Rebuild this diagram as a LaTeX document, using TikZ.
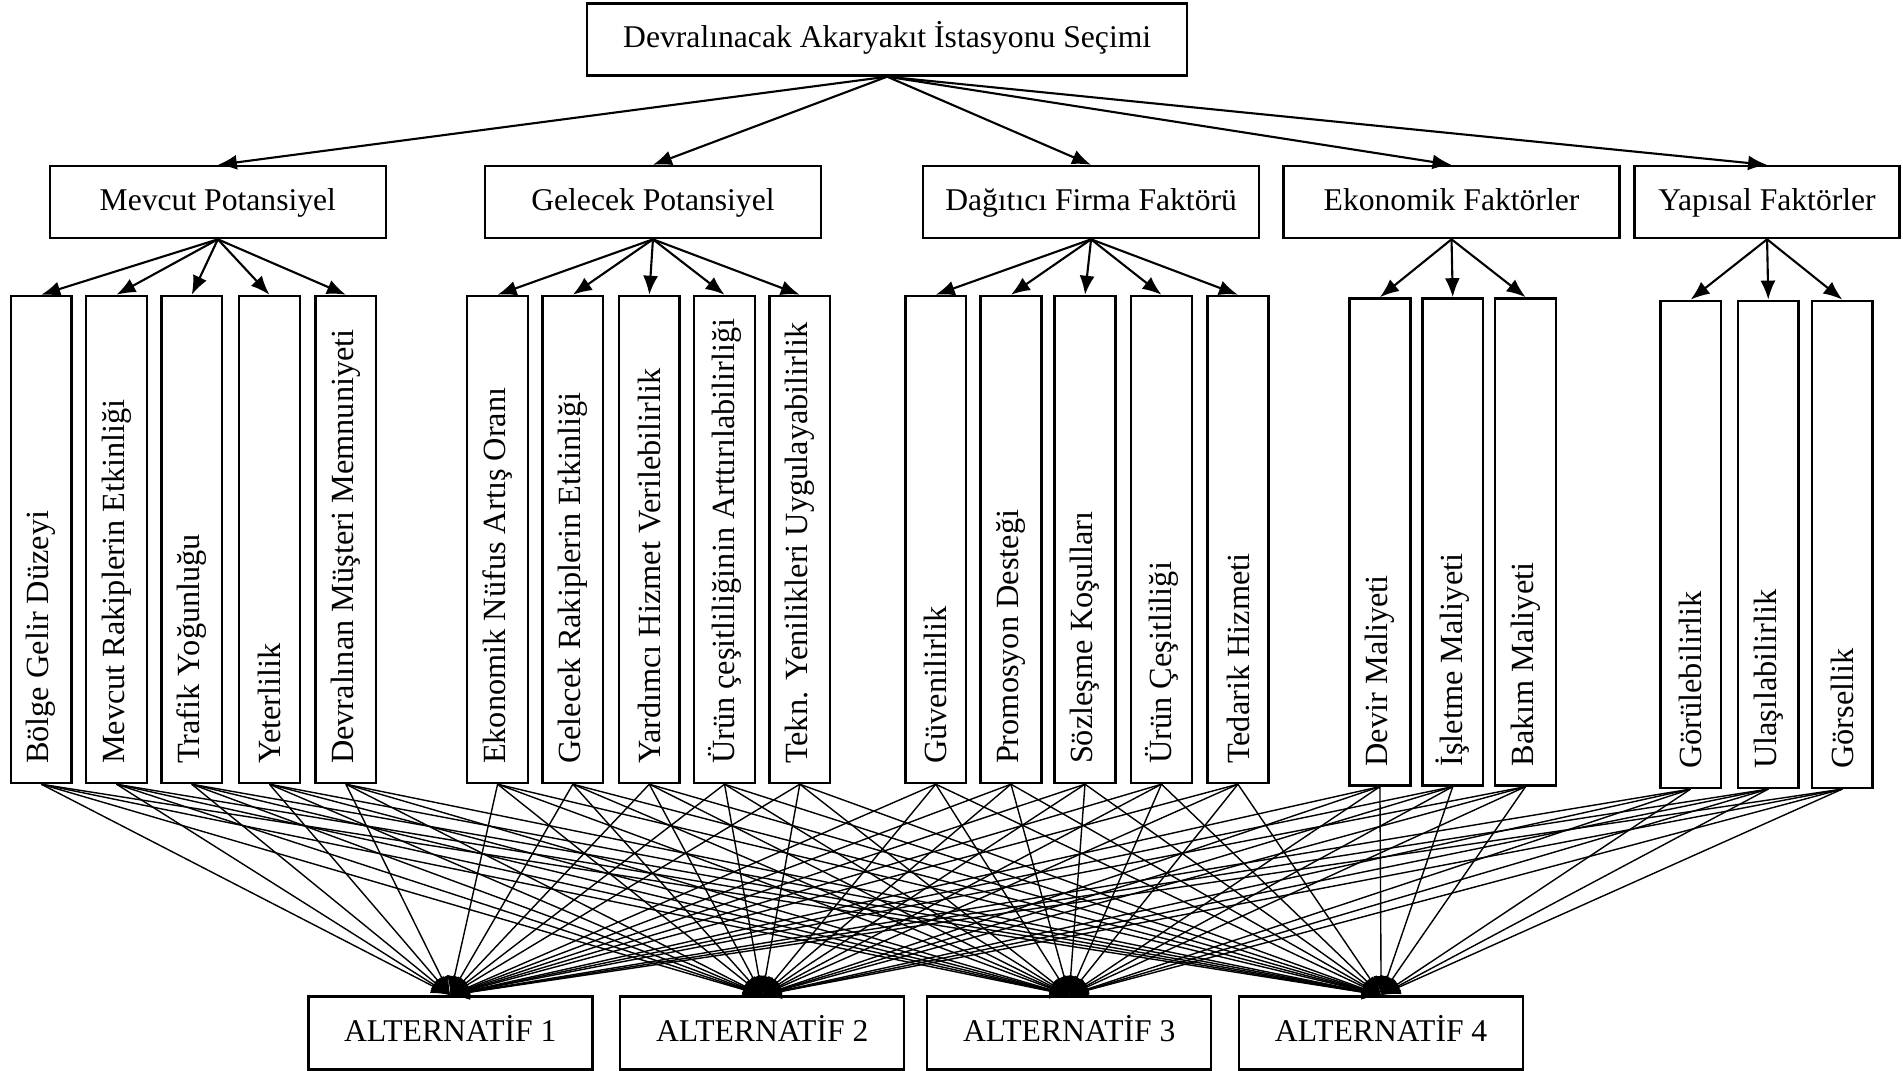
\documentclass[tikz,border=0pt]{standalone}
\usepackage{fontspec}
\setmainfont{Liberation Serif}
\usetikzlibrary{arrows.meta}
\newcommand{\dikyazi}[1]{\makebox[4.49cm][l]{#1}}
\tikzset{
  kutu/.style={draw, line width=0.7pt, inner sep=2pt, font=\fontsize{9}{11}\selectfont},
  yatay/.style={kutu, text height=0.7em, text depth=0.22em},
  ana/.style={yatay, minimum width=6cm, minimum height=0.72cm},
  kriter/.style={yatay, minimum width=3.36cm, minimum height=0.72cm},
  altkr/.style={kutu, rotate=90, font=\fontsize{9.2}{11}\selectfont, minimum height=0.607cm, inner xsep=0.19cm},
  secenek/.style={yatay, minimum width=2.84cm, minimum height=0.73cm},
  ok/.style={-{Latex[length=1.9mm,width=1.5mm]}, line width=0.6pt},
  ince/.style={-{Latex[length=1.9mm,width=1.5mm]}, line width=0.4pt}
}

\begin{document}
\begin{tikzpicture}[x=0.12137mm, y=-0.12137mm]
	\useasboundingbox (0,0) rectangle (1568,882);
	% amac
	\node[ana] (top) at (731,32.5){Devralınacak Akaryakıt İstasyonu Seçimi\hspace{2.7mm}};
	% ana kriterler
	\node[kriter] (k1) at (179.5,166.5){Mevcut Potansiyel};%1
	\node[kriter] (k2) at (538,166.5){Gelecek Potansiyel};%2
	\node[kriter] (k3) at (899,166.5){Dağıtıcı Firma Faktörü};%3
	\node[kriter] (k4) at (1196,166.5){Ekonomik Faktörler};%4
	\node[kriter, minimum width=2.65cm] (k5) at (1456,166.5){Yapısal Faktörler};%5
	% alt kriterler
	\node[altkr] (s1) at (34,444.5){\dikyazi{Bölge Gelir Düzeyi}};%1
	\node[altkr] (s2) at (96,444.5){\dikyazi{Mevcut Rakiplerin Etkinliği}};%2
	\node[altkr] (s3) at (158,444.5){\dikyazi{Trafik Yoğunluğu}};%3
	\node[altkr] (s4) at (222,444.5){\dikyazi{Yeterlilik}};%4
	\node[altkr] (s5) at (285,444.5){\dikyazi{Devralınan Müşteri Memnuniyeti}};%5
	\node[altkr] (s6) at (410,444.5){\dikyazi{Ekonomik Nüfus Artış Oranı}};%6
	\node[altkr] (s7) at (472,444.5){\dikyazi{Gelecek Rakiplerin Etkinliği}};%7
	\node[altkr] (s8) at (535,444.5){\dikyazi{Yardımcı Hizmet Verilebilirlik}};%8
	\node[altkr] (s9) at (597,444.5){\dikyazi{Ürün çeşitliliğinin Arttırılabilirliği}};%9
	\node[altkr] (s10) at (659,444.5){\dikyazi{Tekn. Yenilikleri Uygulayabilirlik}};%10
	\node[altkr] (s11) at (771,444.5){\dikyazi{Güvenilirlik}};%11
	\node[altkr] (s12) at (833,444.5){\dikyazi{Promosyon Desteği}};%12
	\node[altkr] (s13) at (894,444.5){\dikyazi{Sözleşme Koşulları}};%13
	\node[altkr] (s14) at (957,444.5){\dikyazi{Ürün Çeşitliliği}};%14
	\node[altkr] (s15) at (1020,444.5){\dikyazi{Tedarik Hizmeti}};%15
	\node[altkr] (s16) at (1137,446.5){\dikyazi{Devir Maliyeti}};%16
	\node[altkr] (s17) at (1197,446.5){\dikyazi{İşletme Maliyeti}};%17
	\node[altkr] (s18) at (1257,446.5){\dikyazi{Bakım Maliyeti}};%18
	\node[altkr] (s19) at (1393,448.5){\dikyazi{Görülebilirlik}};%19
	\node[altkr] (s20) at (1457,448.5){\dikyazi{Ulaşılabilirlik}};%20
	\node[altkr] (s21) at (1518,448.5){\dikyazi{Görsellik}};%21
	% alternatifler
	\node[secenek] (a1) at (371,851){ALTERNATİF 1};
	\node[secenek] (a2) at (628,851){ALTERNATİF 2};
	\node[secenek] (a3) at (881,851){ALTERNATİF 3};
	\node[secenek] (a4) at (1138,851){ALTERNATİF 4};
	% oklar
	\foreach \k in {1,...,5}
		\draw[ok] (top.south) -- (k\k.north);
	\foreach \s in {1,...,5}
		\draw[ok] (k1.south) -- (s\s.east);
	\foreach \s in {6,...,10}
		\draw[ok] (k2.south) -- (s\s.east);
	\foreach \s in {11,...,15}
		\draw[ok] (k3.south) -- (s\s.east);
	\foreach \s in {16,17,18}
		\draw[ok] (k4.south) -- (s\s.east);
	\foreach \s in {19,20,21}
		\draw[ok] (k5.south) -- (s\s.east);
	\foreach \s in {1,...,21}
		\foreach \a in {1,...,4}
			\draw[ince] (s\s.west) -- (a\a.north);
\end{tikzpicture}
\end{document}
